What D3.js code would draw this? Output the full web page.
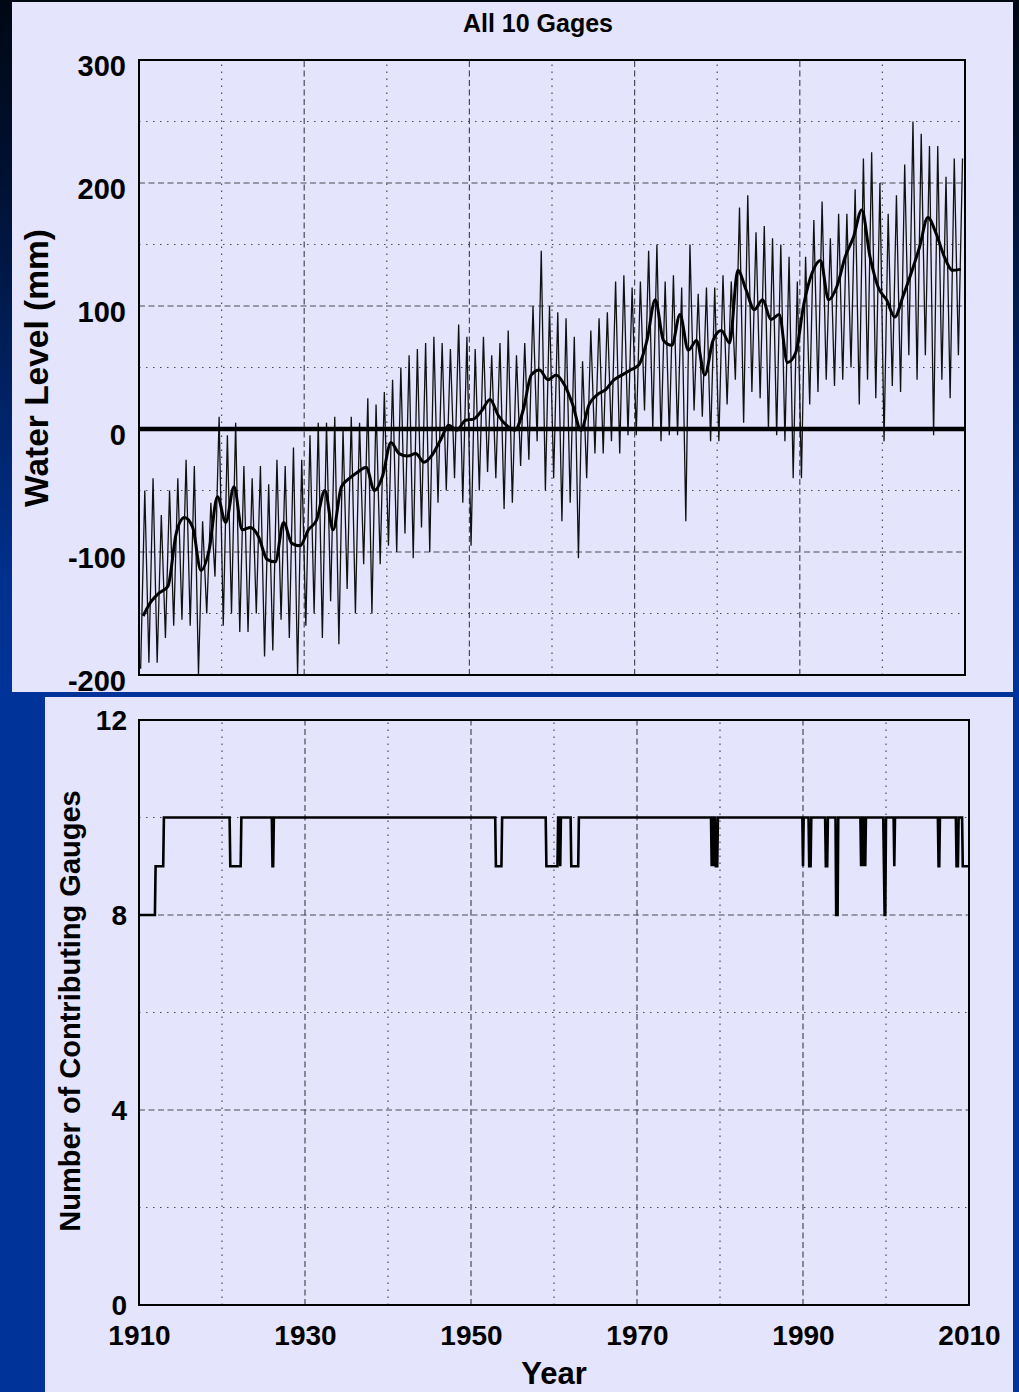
<!DOCTYPE html>
<html>
<head>
<meta charset="utf-8">
<script src="https://cdn.jsdelivr.net/npm/d3@7"></script>
<style>
  html, body { margin: 0; padding: 0; background: #003399; }
  svg { display: block; }
  text { font-family: "Liberation Sans", Arial, Helvetica, sans-serif; font-weight: bold; fill: #000; }
</style>
</head>
<body>
<svg id="chart" width="1019" height="1392"></svg>
<script>
// ---- Data ----------------------------------------------------------------
// Years of record (one entry per calendar year)
const years = d3.range(1910, 2010);

// Annual mean water level (mm) - the heavy smoothed trace
const meanLevel = [
  -152, -140, -133, -128, -85, -72, -80, -115, -98, -55,
  -76, -47, -82, -80, -88, -106, -108, -76, -93, -95,
  -82, -74, -50, -82, -47, -40, -35, -31, -50, -38,
  -11, -20, -22, -20, -27, -21, -9, 3, -1, 7,
  8, 15, 24, 11, 3, -1, 15, 44, 48, 40,
  44, 36, 20, -1, 20, 28, 32, 40, 44, 48,
  52, 72, 105, 72, 68, 93, 64, 72, 44, 72,
  80, 70, 129, 113, 97, 105, 89, 93, 54, 62,
  102, 127, 137, 105, 116, 140, 156, 178, 140, 115,
  105, 91, 108, 127, 148, 172, 159, 140, 129, 130
];

// Yearly low and high of the monthly record (mm) - the thin trace
const lowLevel = [
  -195, -190, -190, -170, -160, -155, -160, -200, -150, -120,
  -160, -150, -165, -165, -150, -185, -180, -155, -170, -200,
  -160, -150, -170, -140, -175, -130, -150, -110, -150, -110,
  -95, -100, -85, -105, -80, -100, -60, -50, -40, -60,
  -95, -50, -35, -40, -65, -60, -30, -25, -10, -50,
  -40, -75, -60, -105, -40, -20, -20, -10, -20, -5,
  -5, 15, 0, -10, -5, -5, -75, 15, 10, -10,
  -10, 20, 40, 5, 30, 25, 0, -5, -10, -40,
  -40, 20, 30, 40, 35, 40, 50, 20, 40, 25,
  -10, 35, 30, 60, 40, 60, -5, 40, 25, 60
];
const highLevel = [
  -50, -40, -70, -50, -40, -25, -30, -75, -60, 10,
  -5, 5, -30, -40, -30, -45, -25, -30, -15, -25,
  -5, 5, 5, 10, 0, 10, 5, 25, 20, 30,
  40, 50, 60, 65, 70, 75, 70, 65, 85, 75,
  65, 75, 60, 70, 80, 60, 70, 100, 145, 100,
  95, 90, 75, 55, 80, 90, 95, 120, 125, 115,
  120, 145, 150, 120, 125, 115, 150, 110, 115, 115,
  125, 120, 180, 190, 160, 165, 155, 150, 140, 120,
  140, 170, 185, 155, 175, 175, 195, 220, 225, 200,
  175, 190, 215, 250, 240, 230, 230, 205, 220, 220
];

// Number of contributing gauges: value holds from each change date onward
const gaugeChangeYear = [
  1910.0, 1912.0, 1913.0, 1921.0, 1922.33, 1926.08, 1926.17,
  1953.0, 1953.67,
  1959.08, 1959.17, 1959.25, 1959.42, 1959.5, 1959.67, 1959.75, 1959.92,
  1960.0, 1960.17, 1960.25, 1960.5, 1960.67, 1960.83,
  1962.08, 1963.0,
  1979.0, 1979.08, 1979.17, 1979.33, 1979.42, 1979.67,
  1990.0, 1990.08, 1990.75, 1990.92,
  1992.67, 1993.0, 1994.0, 1994.17,
  1997.0, 1997.08, 1997.17, 1997.33, 1997.42, 1997.58,
  1999.75, 1999.83, 1999.92, 2000.92, 2001.0, 2001.08,
  2006.33, 2006.5, 2008.5, 2008.75, 2009.25
];
const gaugeCount = [
  8, 9, 10, 9, 10, 9, 10,
  9, 10,
  9, 10, 9, 10, 9, 10, 9, 10,
  9, 10, 9, 10, 9, 10,
  9, 10,
  9, 10, 9, 10, 9, 10,
  9, 10, 9, 10,
  9, 10, 8, 10,
  9, 10, 9, 10, 9, 10,
  9, 8, 10, 8, 9, 10,
  9, 10, 9, 10, 9
];

// Axis ticks
const levelMajorTicks = [-200, -100, 0, 100, 200, 300];
const levelMinorTicks = [-150, -50, 50, 150, 250];
const gaugeMajorTicks = [0, 4, 8, 12];
const gaugeMinorTicks = [2, 6, 10];
const yearLabelTicks = [1910, 1930, 1950, 1970, 1990, 2010];
const yearMajorGrid = [1930, 1950, 1970, 1990];
const yearMinorGrid = [1920, 1940, 1960, 1980, 2000];

// ---- Drawing -------------------------------------------------------------
const svg = d3.select("#chart");
const W = 1019, H = 1392;
const panelFill = "#e4e4fc";
const gridColor = "#4a4a55";
const FONT = '"Liberation Sans", Arial, Helvetica, sans-serif';

const defs = svg.append("defs");
const bg = defs.append("linearGradient")
  .attr("id", "bgGrad").attr("x1", 0).attr("y1", 0).attr("x2", 0).attr("y2", 1);
bg.append("stop").attr("offset", "0%").attr("stop-color", "#000814");
bg.append("stop").attr("offset", "12%").attr("stop-color", "#001030");
bg.append("stop").attr("offset", "42%").attr("stop-color", "#00318f");
bg.append("stop").attr("offset", "50%").attr("stop-color", "#003399");
bg.append("stop").attr("offset", "100%").attr("stop-color", "#003399");
svg.append("rect").attr("width", W).attr("height", H).attr("fill", "url(#bgGrad)");

// Panels
svg.append("rect").attr("x", 12).attr("y", 2).attr("width", 1001).attr("height", 690).attr("fill", panelFill);
svg.append("rect").attr("x", 45).attr("y", 697).attr("width", 968).attr("height", 695).attr("fill", panelFill);

// Scales
const xTop = d3.scaleLinear().domain([1910, 2010]).range([139, 965]);
const yTop = d3.scaleLinear().domain([-200, 300]).range([675, 60]);
const xBot = d3.scaleLinear().domain([1910, 2010]).range([139, 969]);
const yBot = d3.scaleLinear().domain([0, 12]).range([1305, 720]);

function drawGrid(g, x, y, yMajor, yMinor) {
  const [x0, x1] = x.range();
  const [y0, y1] = y.range();
  const inner = yMajor.filter(d => d !== y.domain()[0] && d !== y.domain()[1]);
  g.append("g").selectAll("line").data(yMinor).join("line")
    .attr("x1", x0).attr("x2", x1).attr("y1", d => y(d)).attr("y2", d => y(d))
    .attr("stroke", gridColor).attr("stroke-width", 1.2).attr("stroke-dasharray", "1.5,5.5");
  g.append("g").selectAll("line").data(inner).join("line")
    .attr("x1", x0).attr("x2", x1).attr("y1", d => y(d)).attr("y2", d => y(d))
    .attr("stroke", gridColor).attr("stroke-width", 1.2).attr("stroke-dasharray", "6,3.5");
  g.append("g").selectAll("line").data(yearMinorGrid).join("line")
    .attr("x1", d => x(d)).attr("x2", d => x(d)).attr("y1", y0).attr("y2", y1)
    .attr("stroke", gridColor).attr("stroke-width", 1.2).attr("stroke-dasharray", "1.5,5.5");
  g.append("g").selectAll("line").data(yearMajorGrid).join("line")
    .attr("x1", d => x(d)).attr("x2", d => x(d)).attr("y1", y0).attr("y2", y1)
    .attr("stroke", gridColor).attr("stroke-width", 1.2).attr("stroke-dasharray", "6,3.5");
}

function styleAxis(g, size) {
  g.select(".domain").remove();
  g.selectAll(".tick line").remove();
  g.selectAll(".tick text")
    .style("font-family", FONT)
    .style("font-weight", "bold").style("font-size", size + "px").attr("fill", "#000");
}

// ---- Top panel: water level ---------------------------------------------
const topG = svg.append("g");
topG.append("text").attr("x", 538).attr("y", 32).attr("text-anchor", "middle")
  .style("font-size", "25px").text("All 10 Gages");

drawGrid(topG.append("g"), xTop, yTop, levelMajorTicks, levelMinorTicks);

defs.append("clipPath").attr("id", "clipTop").append("rect")
  .attr("x", 139).attr("y", 60).attr("width", 826).attr("height", 615);

// Thin trace: each year's low (late winter) and high (late summer)
const thinPts = [];
years.forEach((yr, i) => {
  thinPts.push([yr + 0.2, lowLevel[i]]);
  thinPts.push([yr + 0.7, highLevel[i]]);
});
const lineTop = d3.line().x(d => xTop(d[0])).y(d => yTop(d[1]));
topG.append("path").datum(thinPts).attr("clip-path", "url(#clipTop)")
  .attr("d", lineTop).attr("fill", "none").attr("stroke", "#111")
  .attr("stroke-width", 1.3).attr("stroke-linejoin", "miter");

// Heavy trace: annual mean
const meanPts = years.map((yr, i) => [yr + 0.5, meanLevel[i]]);
const smoothTop = d3.line().x(d => xTop(d[0])).y(d => yTop(d[1])).curve(d3.curveMonotoneX);
topG.append("path").datum(meanPts).attr("clip-path", "url(#clipTop)")
  .attr("d", smoothTop).attr("fill", "none")
  .attr("stroke", "#000").attr("stroke-width", 3);

// Zero reference line
topG.append("line").attr("x1", xTop(1910)).attr("x2", xTop(2010))
  .attr("y1", yTop(0)).attr("y2", yTop(0)).attr("stroke", "#000").attr("stroke-width", 4.5);

// Frame
topG.append("rect").attr("x", 139).attr("y", 60).attr("width", 826).attr("height", 615)
  .attr("fill", "none").attr("stroke", "#000").attr("stroke-width", 2);

const yAxisTop = topG.append("g").attr("transform", "translate(139,6)")
  .call(d3.axisLeft(yTop).tickValues(levelMajorTicks).tickFormat(d => String(d))
    .tickSize(0).tickPadding(13));
styleAxis(yAxisTop, 29);

topG.append("text").attr("transform", "translate(48,368) rotate(-90)")
  .attr("text-anchor", "middle").style("font-size", "33.5px").text("Water Level (mm)");

// ---- Bottom panel: contributing gauges ----------------------------------
const botG = svg.append("g");
drawGrid(botG.append("g"), xBot, yBot, gaugeMajorTicks, gaugeMinorTicks);

// Monthly gauge count built from the change dates
const months = d3.range(0, 1200).map(m => 1910 + m / 12);
const gaugePts = months.map(t => {
  const idx = d3.bisectRight(gaugeChangeYear, t + 1e-6) - 1;
  return [t, gaugeCount[Math.max(0, idx)]];
});
gaugePts.push([2010, gaugeCount[gaugeCount.length - 1]]);
botG.append("path").datum(gaugePts)
  .attr("d", d3.line().x(d => xBot(d[0])).y(d => yBot(d[1])))
  .attr("fill", "none").attr("stroke", "#000").attr("stroke-width", 2.6);

botG.append("rect").attr("x", 139).attr("y", 720).attr("width", 830).attr("height", 585)
  .attr("fill", "none").attr("stroke", "#000").attr("stroke-width", 2);

const yAxisBot = botG.append("g").attr("transform", "translate(139,0.5)")
  .call(d3.axisLeft(yBot).tickValues(gaugeMajorTicks).tickSize(0).tickPadding(12));
styleAxis(yAxisBot, 28);

const xAxisBot = botG.append("g").attr("transform", "translate(0,1305)")
  .call(d3.axisBottom(xBot).tickValues(yearLabelTicks).tickFormat(d3.format("d"))
    .tickSize(0).tickPadding(20.5));
styleAxis(xAxisBot, 28);

botG.append("text").attr("transform", "translate(80,1011) rotate(-90)")
  .attr("text-anchor", "middle").style("font-size", "29px").text("Number of Contributing Gauges");
botG.append("text").attr("x", 554).attr("y", 1384).attr("text-anchor", "middle")
  .style("font-size", "31px").text("Year");
</script>
</body>
</html>
